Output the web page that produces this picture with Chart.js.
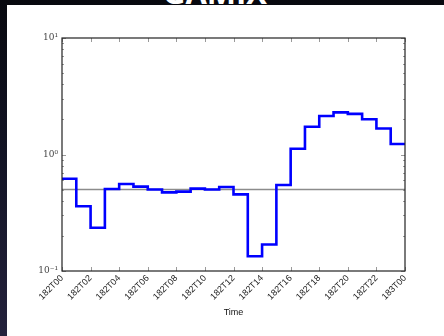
<!DOCTYPE html>
<html>
<head>
<meta charset="utf-8">
<script src="https://cdn.jsdelivr.net/npm/chart.js@4/dist/chart.umd.min.js"></script>
<style>
  html, body { margin: 0; padding: 0; }
  body {
    width: 444px; height: 336px; overflow: hidden; position: relative;
    background: linear-gradient(180deg, #08090f 0%, #121324 45%, #24223c 100%);
  }
  #title {
    position: absolute; left: 0; width: 430px; top: -26px; height: 37px; line-height: 37px; text-align: center;
    color: #ffffff; font-family: "Open Sans", "DejaVu Sans", sans-serif; font-weight: bold; font-size: 31px;
  }
  #panel {
    position: absolute; left: 7px; top: 5px; width: 437px; height: 331px; background: #ffffff;
  }
  canvas { display: block; }
</style>
</head>
<body>
<div id="title">GAMIX</div>
<div id="panel"><canvas id="c" width="437" height="331"></canvas></div>
<script>
// Hourly values for day 182, one step per hour
const hours = [0,1,2,3,4,5,6,7,8,9,10,11,12,13,14,15,16,17,18,19,20,21,22,23];
const values = [0.62, 0.36, 0.235, 0.505, 0.558, 0.53, 0.50, 0.473, 0.48, 0.509, 0.50, 0.526,
                0.455, 0.134, 0.169, 0.547, 1.12, 1.73, 2.14, 2.30, 2.23, 2.01, 1.67, 1.23];
const timeLabels = ['182T00','182T02','182T04','182T06','182T08','182T10','182T12',
                    '182T14','182T16','182T18','182T20','182T22','183T00'];
const referenceLevel = 0.5;
const yLabels = { '0.1': '10\u207B\u00B9', '1': '10\u2070', '10': '10\u00B9' };

const stepPoints = hours.map((h, i) => ({ x: h, y: values[i] }));
stepPoints.push({ x: 24, y: values[values.length - 1] });

// Box frame with inward ticks on all four sides
const frameTicks = {
  id: 'frameTicks',
  afterDraw(chart) {
    const { ctx, chartArea: a, scales } = chart;
    const xs = scales.x, ys = scales.y;
    ctx.save();
    ctx.strokeStyle = '#9a9a9a';
    ctx.lineWidth = 1;
    ctx.beginPath();
    for (let h = 0; h <= 24; h += 2) {
      const px = Math.round(xs.getPixelForValue(h)) + 0.5;
      ctx.moveTo(px, a.bottom); ctx.lineTo(px, a.bottom - 4);
      ctx.moveTo(px, a.top); ctx.lineTo(px, a.top + 4);
    }
    for (let e = -1; e <= 0; e++) {
      for (let m = 1; m <= 10; m++) {
        const v = m * Math.pow(10, e);
        const py = Math.round(ys.getPixelForValue(v)) + 0.5;
        const len = (m === 1 || m === 10) ? 4 : 2;
        ctx.moveTo(a.left, py); ctx.lineTo(a.left + len, py);
        ctx.moveTo(a.right, py); ctx.lineTo(a.right - len, py);
      }
    }
    ctx.stroke();
    ctx.strokeStyle = '#222222';
    ctx.lineWidth = 1.2;
    ctx.strokeRect(a.left, a.top, a.right - a.left, a.bottom - a.top);
    ctx.restore();
  }
};

new Chart(document.getElementById('c'), {
  type: 'line',
  data: {
    datasets: [
      {
        data: [{ x: 0, y: referenceLevel }, { x: 24, y: referenceLevel }],
        borderColor: '#8c8c8c', borderWidth: 1.6, pointRadius: 0, order: 2
      },
      {
        data: stepPoints,
        stepped: 'before',
        borderColor: '#0000ff', borderWidth: 2.6, pointRadius: 0, order: 1
      }
    ]
  },
  options: {
    responsive: false,
    animation: false,
    layout: { padding: { top: 33, right: 39, left: 0, bottom: 14 } },
    plugins: { legend: { display: false }, tooltip: { enabled: false } },
    scales: {
      x: {
        type: 'linear', min: 0, max: 24,
        afterBuildTicks(s) { s.ticks = timeLabels.map((_, i) => ({ value: i * 2 })); },
        afterFit(s) { s.height = 51; },
        grid: { display: false, drawTicks: true, tickLength: 2 },
        border: { display: false },
        ticks: {
          autoSkip: false, minRotation: 45, maxRotation: 45, padding: 0,
          color: '#222222',
          font: { family: '"Liberation Sans", Arial, sans-serif', size: 9 },
          callback: (v) => timeLabels[Math.round(v / 2)]
        },
        title: {
          display: true, text: 'Time', color: '#111111', padding: { top: 0 },
          font: { family: '"Liberation Sans", Arial, sans-serif', size: 9 }
        }
      },
      y: {
        type: 'logarithmic', min: 0.1, max: 10,
        afterBuildTicks(s) { s.ticks = [{ value: 0.1 }, { value: 1 }, { value: 10 }]; },
        afterFit(s) { s.width = 55; },
        grid: { display: false, tickLength: 2 },
        border: { display: false },
        ticks: {
          color: '#444444', padding: 2,
          font: { family: '"DejaVu Serif", "Liberation Serif", serif', size: 9 },
          callback: (v) => yLabels[String(v)] || ''
        }
      }
    }
  },
  plugins: [frameTicks]
});
</script>
</body>
</html>
